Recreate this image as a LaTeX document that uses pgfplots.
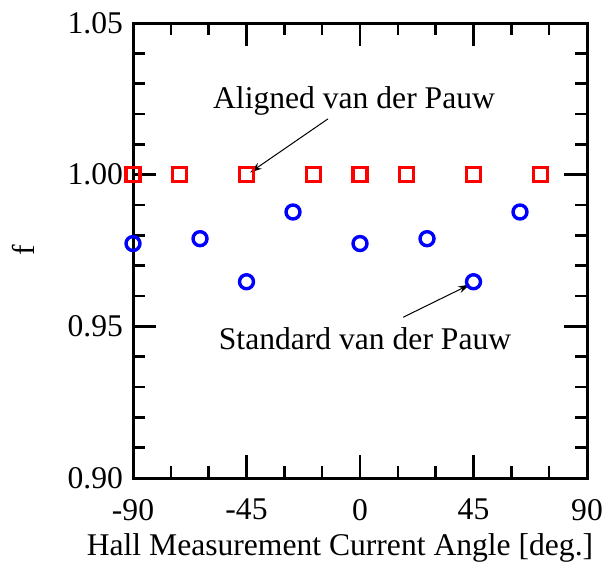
\documentclass[border=0pt]{standalone}
\usepackage{fontspec}
\setmainfont{Liberation Serif}
\usepackage{pgfplots}
\pgfplotsset{compat=1.18}
\usetikzlibrary{arrows.meta}
\newcommand{\bigf}{\fontsize{15.8pt}{18pt}\selectfont}
\begin{document}
\begin{tikzpicture}[font=\bigf]
\useasboundingbox (-66.5pt,-46pt) rectangle (237.5pt,239pt);
\begin{axis}[
  at={(0,0)}, anchor=south west,
  scale only axis, width=227pt, height=227.5pt,
  xmin=-90, xmax=90, ymin=0.90, ymax=1.05,
  xtick={-90,-45,0,45,90}, xticklabels={-90,-45,0,45,90},
  ytick={0.90,0.95,1.00,1.05}, yticklabels={0.90,0.95,1.00,1.05},
  minor x tick num=2, minor y tick num=4,
  tick align=inside, tick pos=both,
  major tick length=11.5pt, minor tick length=6pt,
  axis line style={line width=1.5pt},
  every tick/.style={line width=1.2pt, black},
  tick label style={font=\bigf},
  label style={font=\bigf},
  xticklabel style={yshift=-7pt},
  yticklabel style={xshift=-1.5pt},
  xlabel={Hall Measurement Current Angle [deg.]},
  ylabel={f},
  xlabel style={at={(axis description cs:0.5,0)}, anchor=base, yshift=-38.5pt, xshift=-10pt},
  ylabel style={at={(axis description cs:0,0.5)}, anchor=center, yshift=54.75pt},
  clip=false,
]
\addplot[only marks, mark=square, mark size=3.5pt, line width=1.7pt, color={rgb,255:red,255;green,0;blue,0}]
  coordinates {(-90,1.00) (-71.57,1.00) (-45,1.00) (-18.43,1.00) (0,1.00) (18.43,1.00) (45,1.00) (71.57,1.00)};
\addplot[only marks, mark=o, mark size=3.5pt, line width=1.7pt, color={rgb,255:red,0;green,0;blue,255}]
  coordinates {(-90,0.9773) (-63.43,0.9789) (-45,0.9647) (-26.57,0.9877) (0,0.9773) (26.57,0.9789) (45,0.9647) (63.43,0.9877)};
\node[anchor=base, inner sep=0pt] at (axis cs:-2.37,1.0217) {Aligned van der Pauw};
\node[anchor=base, inner sep=0pt] at (axis cs:1.99,0.9424) {Standard van der Pauw};
\draw[line width=0.5pt, -{Stealth[length=6pt,width=3.5pt]}] (axis cs:-12.7,1.0184) -- (axis cs:-43.6,1.0007);
\draw[line width=0.5pt, -{Stealth[length=6pt,width=3.5pt]}] (axis cs:17.1,0.953) -- (axis cs:43.6,0.9638);
\end{axis}
\end{tikzpicture}
\end{document}
